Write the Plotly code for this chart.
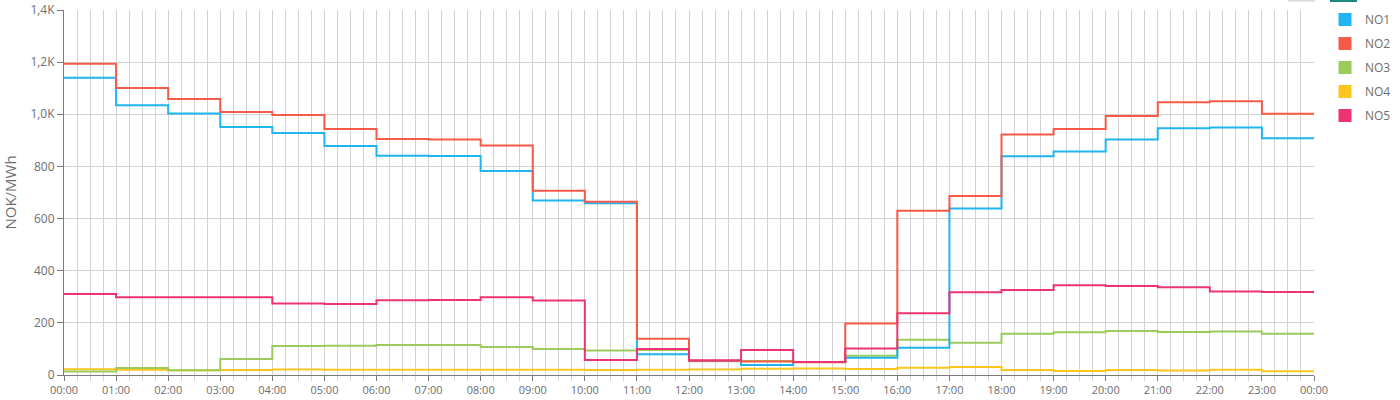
import datetime as dt
import plotly.graph_objects as go

hours = list(range(25))
series_names = ["NO1", "NO2", "NO3", "NO4", "NO5"]
no1 = [1140, 1035, 1003, 951, 928, 878, 841, 840, 782, 669, 659, 80, 54, 38, 50, 66,
       105, 639, 839, 857, 903, 946, 949, 908]
no2 = [1194, 1101, 1059, 1009, 997, 944, 905, 903, 880, 707, 665, 139, 55, 52, 49, 198,
       630, 687, 922, 944, 993, 1046, 1050, 1002]
no3 = [13, 27, 18, 61, 111, 112, 115, 115, 107, 100, 94, 96, 53, 54, 50, 74,
       135, 124, 158, 164, 169, 165, 167, 158]
no4 = [22, 20, 18, 19, 21, 20, 20, 20, 20, 20, 19, 20, 21, 24, 25, 23,
       28, 31, 19, 15, 19, 17, 20, 14]
no5 = [311, 298, 298, 298, 274, 272, 287, 288, 298, 286, 58, 100, 57, 96, 50, 102,
       237, 317, 326, 344, 341, 337, 320, 318]
colors = ["#1fb5f2", "#f65a49", "#9bcb5b", "#fcc61f", "#ec3570"]
y_tickvals = [0, 200, 400, 600, 800, 1000, 1200, 1400]
y_ticktext = ["0", "200", "400", "600", "800", "1,0K", "1,2K", "1,4K"]

base = dt.datetime(2024, 1, 1)
xs = [base + dt.timedelta(hours=h) for h in hours]

fig = go.Figure()
data = [no1, no2, no3, no4, no5]
# draw order: NO4, NO3, NO1, NO2, NO5 on top
order = [3, 2, 0, 1, 4]
for i in order:
    vals = data[i] + [data[i][-1]]
    fig.add_trace(go.Scatter(x=xs, y=vals, mode="lines", line=dict(shape="hv", width=2, color=colors[i]),
                             showlegend=False, hoverinfo="skip"))
for i, name in enumerate(series_names):
    fig.add_trace(go.Scatter(x=[None], y=[None], mode="markers", name=name,
                             marker=dict(symbol="square", size=13, color=colors[i]),
                             legendgroup=name))

grid = "#d2d2d2"
axis_col = "#7a7a7a"
font_col = "#6e6e6e"
W, H = 1400, 400
fig.update_layout(
    width=W, height=H,
    margin=dict(l=64, r=86, t=10, b=25, autoexpand=False),
    plot_bgcolor="white", paper_bgcolor="white",
    font=dict(family="Open Sans, Noto Sans, sans-serif", color=font_col, size=11),
    legend=dict(xref="container", yref="container", x=1325 / W, y=1 - 5 / H, xanchor="left", yanchor="top",
                font=dict(size=12, color=font_col), tracegroupgap=5, itemsizing="trace",
                bgcolor="rgba(0,0,0,0)"),
    xaxis=dict(range=[xs[0], xs[-1]], type="date", tickformat="%H:%M", dtick=3600000,
               tick0=xs[0], showgrid=True, gridcolor=grid, gridwidth=1,
               showline=True, linecolor=axis_col, linewidth=1, ticks="outside", ticklen=5,
               tickcolor=axis_col, tickfont=dict(size=11, color=font_col),
               ticklabeloverflow="allow",
               minor=dict(dtick=900000, showgrid=True, gridcolor=grid, ticks="outside",
                          ticklen=5, tickcolor=grid),
               zeroline=False, fixedrange=True, automargin=False),
    yaxis=dict(range=[0, 1400], tickvals=y_tickvals, ticktext=y_ticktext, showgrid=True,
               gridcolor=grid, showline=True, linecolor=axis_col, linewidth=1, ticks="outside",
               ticklen=6, tickcolor=axis_col, tickfont=dict(size=12, color=font_col),
               ticklabeloverflow="allow",
               title=dict(text="NOK/MWh", font=dict(size=15, color=font_col), standoff=19),
               zeroline=False, automargin=False),
)


def px_x(p):
    return (p - 64) / 1250


def px_y(p):
    return (375 - p) / 365


fig.add_shape(type="rect", xref="paper", yref="paper", x0=px_x(1288), x1=px_x(1315),
              y0=px_y(1.5), y1=px_y(0), fillcolor="#d8d8d8", line_width=0)
fig.add_shape(type="rect", xref="paper", yref="paper", x0=px_x(1330), x1=px_x(1357),
              y0=px_y(2), y1=px_y(0), fillcolor="#1a8a80", line_width=0)

fig.write_html("out.html", config={"displayModeBar": False},
               post_script="document.body.style.margin='0px';")
